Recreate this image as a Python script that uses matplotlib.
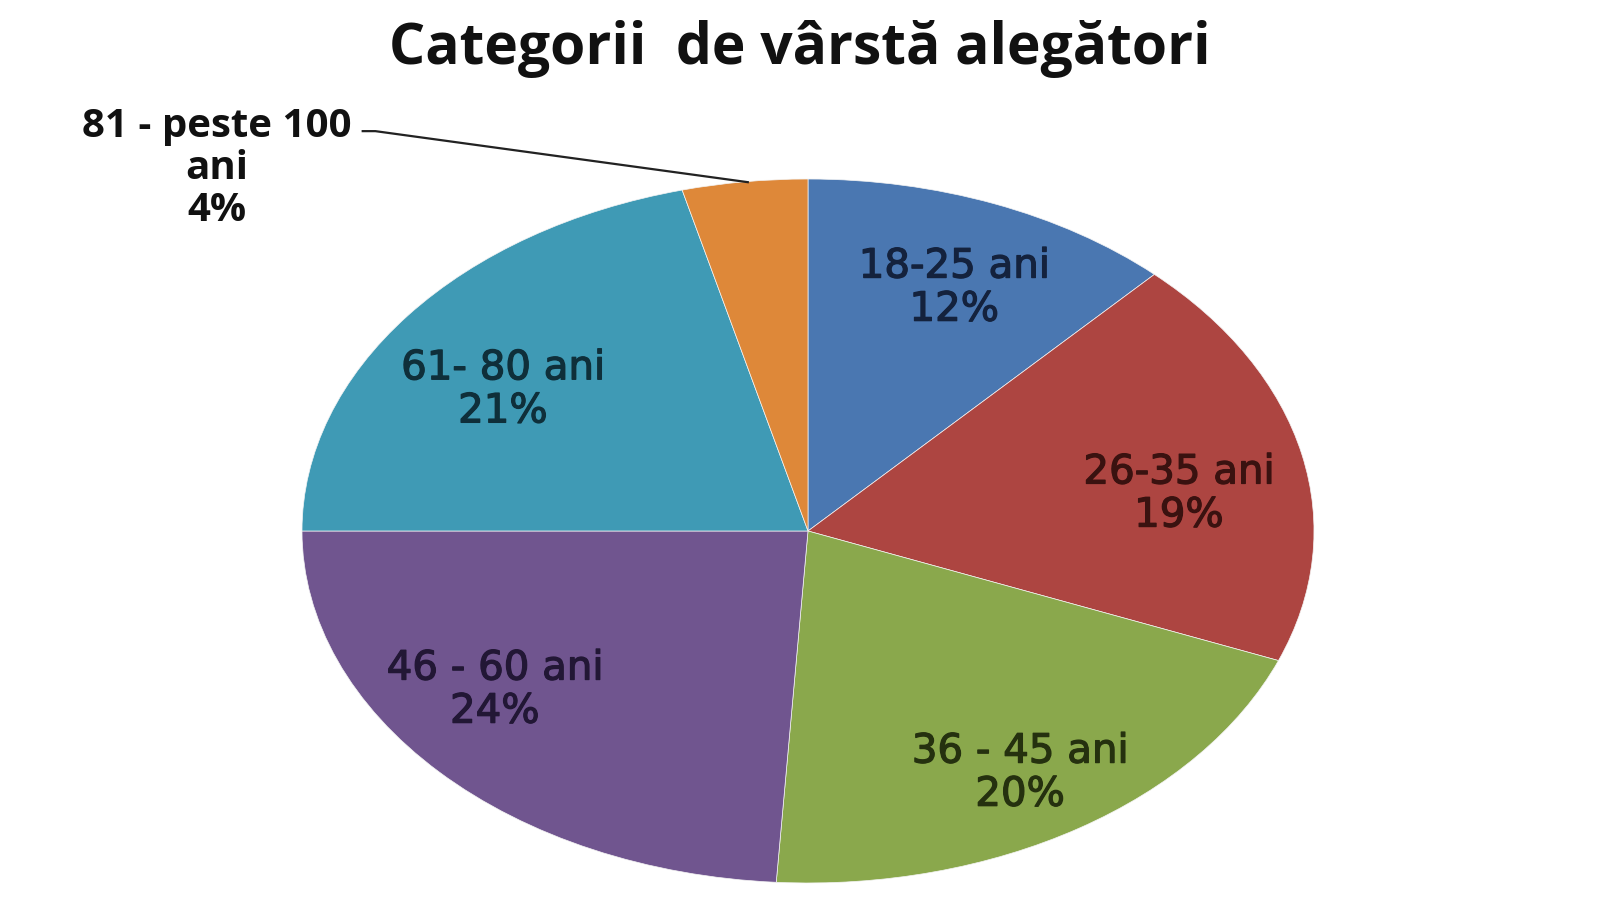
import matplotlib
matplotlib.use("Agg")
import matplotlib.pyplot as plt
import matplotlib.patheffects as pe

# --------- Data -------- #
categories = ["18-25 ani", "26-35 ani", "36 - 45 ani", "46 - 60 ani", "61- 80 ani", "81 - peste 100\nani"]
shares = [12, 19, 20, 24, 21, 4]
pct_labels = ["12%", "19%", "20%", "24%", "21%", "4%"]

colors = ["#4a77b1", "#ad4541", "#8aa84c", "#70558f", "#3f9ab5", "#de8839"]
text_colors = ["#14223d", "#3a1210", "#25310f", "#221735", "#0f2f3a", "#111111"]

# label spots inside the wedges (axes data coords)
label_pos = [(0.289, 0.690), (0.733, 0.105), (0.419, -0.688),
             (-0.619, -0.452), (-0.603, 0.401)]
outer_pos = (-1.168, 1.030)

fig = plt.figure(figsize=(16, 9), dpi=100)
ax = fig.add_axes([0.18875, 0.0189, 0.6325, 0.7822])

ax.pie(shares, colors=colors, startangle=90, counterclock=False,
       wedgeprops=dict(edgecolor="#f4f4f4", linewidth=0.5))
ax.set_aspect("auto")
ax.set_xlim(-1, 1)
ax.set_ylim(-1, 1)
ax.axis("off")

for i in range(5):
    x, y = label_pos[i]
    ax.text(x, y, f"{categories[i]}\n{pct_labels[i]}", ha="center", va="center",
            fontsize=29, color=text_colors[i], family="DejaVu Sans",
            linespacing=1.1,
            path_effects=[pe.withStroke(linewidth=0.9, foreground=text_colors[i])])

# small slice gets an outside label with leader line
ax.text(outer_pos[0], outer_pos[1], f"{categories[5]}\n{pct_labels[5]}",
        ha="center", va="center", fontsize=29, fontweight="bold",
        family="Open Sans", color=text_colors[5], linespacing=1.1, clip_on=False)
ax.plot([-0.880, -0.855, -0.119], [1.136, 1.136, 0.991], color="#222222",
        lw=1.6, clip_on=False)

fig.text(0.5, 0.946, "Categorii  de vârstă alegători", ha="center", va="center",
         fontsize=41, fontweight="bold", family="Open Sans", color="#111111")

fig.savefig("out.png", dpi=100, facecolor="white")
